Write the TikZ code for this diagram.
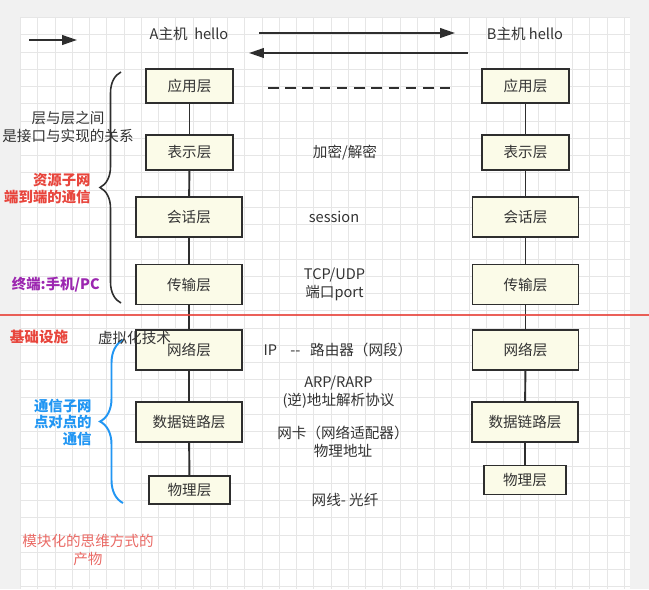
\documentclass[tikz,border=0pt]{standalone}
\usepackage{fontspec}
\setmainfont{Noto Sans CJK SC}
\usetikzlibrary{arrows.meta,decorations.pathreplacing}

\definecolor{txt}{HTML}{333333}
\definecolor{edge}{HTML}{2E2E2E}
\definecolor{boxfill}{HTML}{FBFBE8}
\definecolor{pagebg}{HTML}{F1F1F1}
\definecolor{gridc}{HTML}{E6E6E6}
\definecolor{netred}{HTML}{E8453C}
\definecolor{termpurple}{HTML}{9C27B0}
\definecolor{subblue}{HTML}{2196F3}
\definecolor{notered}{HTML}{EA6B66}

\begin{document}
\begin{tikzpicture}[
        x=0.02cm, y=-0.02cm,
        every node/.style={text=txt, font=\fontsize{8.3}{10.3}\selectfont},
        layer/.style={draw=edge, fill=boxfill, line width=1.1pt, inner sep=0pt,
            minimum width=2.12cm, minimum height=0.8cm},
        toplayer/.style={layer, minimum width=1.74cm, minimum height=0.69cm},
        phylayer/.style={layer, minimum width=1.63cm, minimum height=0.58cm},
        link/.style={edge, line width=1.1pt},
        msg/.style={edge, line width=1.1pt, -{Triangle[length=8.5pt,width=5.5pt]}},
        gridline/.style={gridc, line width=0.5pt},
        note/.style={align=center},
        tag/.style={align=right, anchor=east, inner sep=0pt,
            font=\fontsize{8.2}{9.6}\selectfont\bfseries},
    ]
    \useasboundingbox (0,0) rectangle (649,589);
    % background grid
    \fill[pagebg] (0,0) rectangle (649,589);
    \fill[white] (20,17) rectangle (630,589);
    \foreach \gx in {20.5,37.75,...,630} \draw[gridline] (\gx,17) -- (\gx,589);
    \foreach \gy in {17.5,34.75,...,589} \draw[gridline] (20,\gy) -- (630,\gy);

    % hosts and messages
    \node (Ahost) at (189,34) {A主机\ \ hello};
    \node (Bhost) at (525,34) {B主机 hello};
    \coordinate (dir1) at (29,40);
    \coordinate (dir2) at (77,40);
    \coordinate (snd1) at (259,33);
    \coordinate (snd2) at (455,33);
    \coordinate (rcv1) at (468,53);
    \coordinate (rcv2) at (249,53);
    \draw[msg] (dir1) -- (dir2);
    \draw[msg] (snd1) -- (snd2);
    \draw[msg] (rcv1) -- (rcv2);

    % layers of host A
    \node[toplayer] (Aapp) at (189.5,86) {应用层};
    \node[toplayer] (Apre) at (189.5,152.5) {表示层};
    \node[layer] (Asess) at (189,217) {会话层};
    \node[layer] (Atrans) at (189,284.5) {传输层};
    \node[layer] (Anet) at (189,350) {网络层};
    \node[layer] (Alink) at (189,422) {数据链路层};
    \node[phylayer,minimum height=0.56cm] (Aphy) at (189.5,490) {物理层};
    % layers of host B
    \node[toplayer] (Bapp) at (525.5,86) {应用层};
    \node[toplayer] (Bpre) at (525.5,152.5) {表示层};
    \node[layer] (Bsess) at (525.5,217) {会话层};
    \node[layer] (Btrans) at (525.5,284.5) {传输层};
    \node[layer] (Bnet) at (525.5,350) {网络层};
    \node[layer] (Blink) at (525,422) {数据链路层};
    \node[phylayer] (Bphy) at (525,480) {物理层};

    \draw[link] (Aapp) -- (Apre);
    \draw[link] (Apre) -- (Asess);
    \draw[link] (Asess) -- (Atrans);
    \draw[link] (Atrans) -- (Anet);
    \draw[link] (Anet) -- (Alink);
    \draw[link] (Alink) -- (Aphy);
    \draw[link] (Bapp) -- (Bpre);
    \draw[link] (Bpre) -- (Bsess);
    \draw[link] (Bsess) -- (Btrans);
    \draw[link] (Btrans) -- (Bnet);
    \draw[link] (Bnet) -- (Blink);
    \draw[link] (Blink) -- (Bphy);

    % peer to peer
    \coordinate (peer1) at (268,88);
    \coordinate (peer2) at (450,88);
    \draw[edge, line width=1.1pt, dash pattern=on 6pt off 3.8pt] (peer1) -- (peer2);

    % what each layer does
    \node (crypt) at (345,153) {加密/解密};
    \node (sess) at (334,217) {session};
    \node[note] (tcp) at (334.5,284) {TCP/UDP\\端口port};
    \node (ip) at (338,350) {IP\ \ \ \ {-}{-}\ \ \ 路由器（网段）};
    \node[note] (arp) at (338.5,392.5) {ARP/RARP\\(逆)地址解析协议};
    \node[note] (nic) at (343,441.5) {网卡（网络适配器）\\物理地址};
    \node (wire) at (345,500) {网线- 光纤};

    % braces
    \coordinate (resTop) at (121,72);
    \coordinate (resBot) at (121,303);
    \coordinate (comTop) at (123,340);
    \coordinate (comBot) at (123,503);
    \draw[edge, line width=0.9pt, decorate, decoration={brace, amplitude=0.42cm}]
        (resBot) -- (resTop);
    \draw[subblue, line width=1.1pt, decorate, decoration={brace, amplitude=0.46cm}]
        (comBot) -- (comTop);

    % notes on the left
    \node[note] (iface) at (68,126.5) {层与层之间\\是接口与实现的关系};
    \node[tag, text=netred] (resnet) at (91,188.5) {资源子网\\端到端的通信};
    \node[tag, text=termpurple] (term) at (100,285) {终端:手机/PC};
    \node[tag, text=subblue] (comnet) at (92,422.5) {通信子网\\点对点的\\通信};
    \node[note, text=notered] (modular) at (88,550) {模块化的思维方式的\\产物};

    % split between the two subnets
    \coordinate (cut1) at (0,315);
    \coordinate (cut2) at (649,315);
    \draw[netred, line width=1.1pt, opacity=0.85] (cut1) -- (cut2);
    \node[font=\fontsize{8.3}{10}\selectfont\bfseries, text=netred] (infra) at (39,337) {基础设施};
    \node (virt) at (134.5,338) {虚拟化技术};
\end{tikzpicture}
\end{document}
